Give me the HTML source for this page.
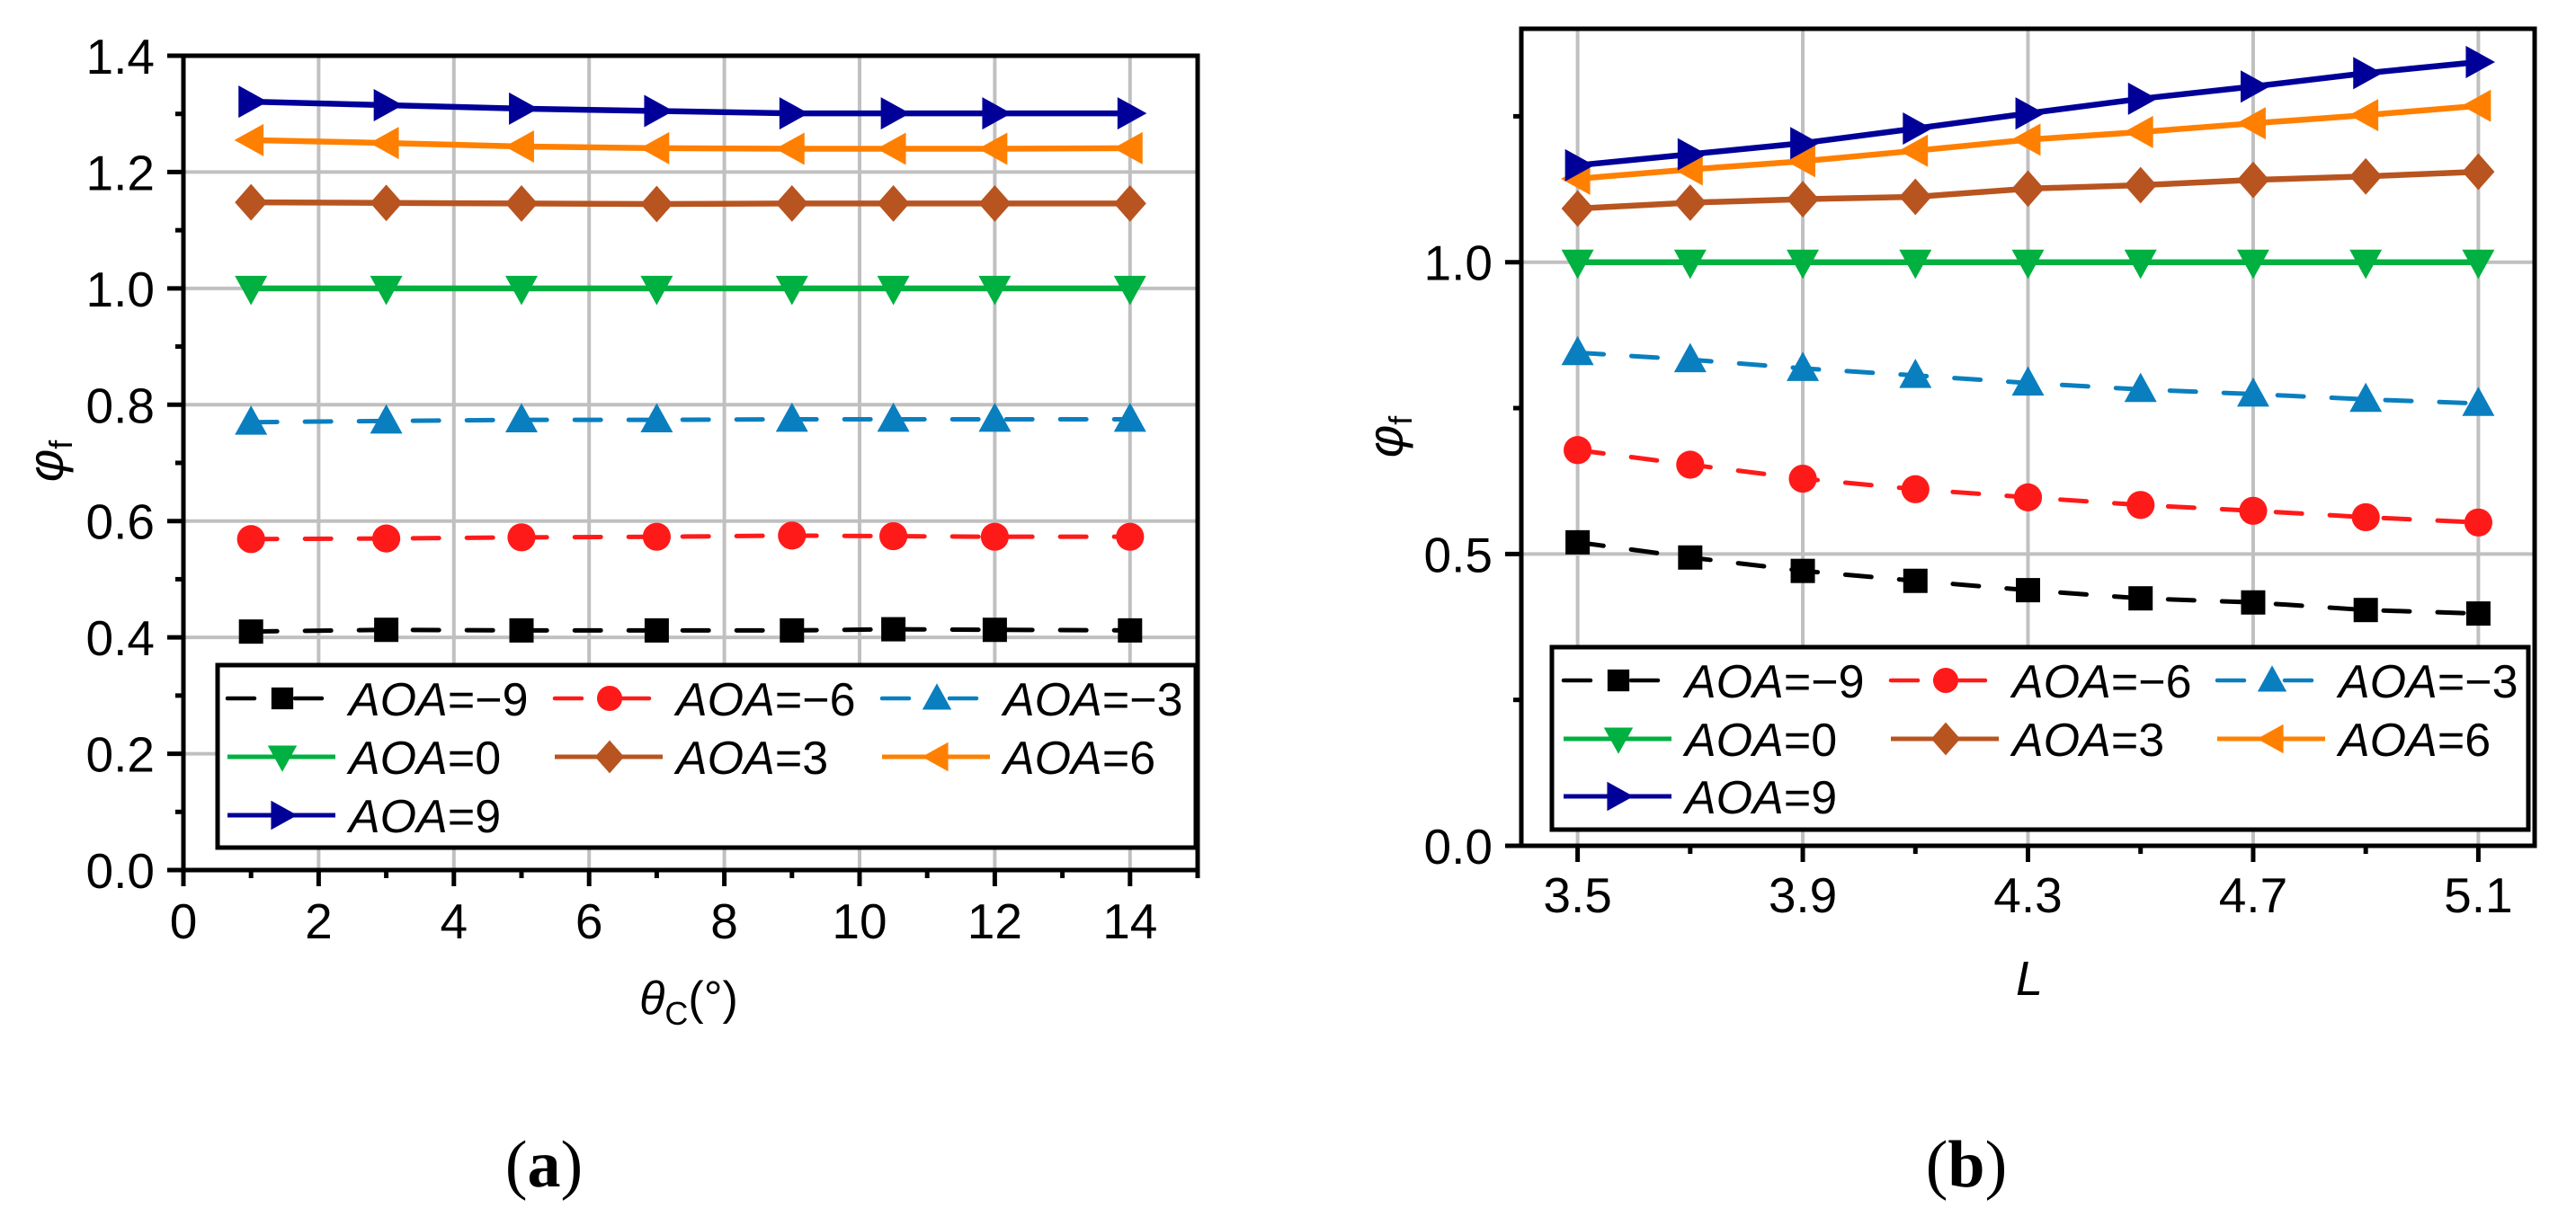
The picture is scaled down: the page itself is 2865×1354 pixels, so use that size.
<!DOCTYPE html>
<html><head><meta charset="utf-8"><style>
html,body{margin:0;padding:0;background:#fff;}
svg{display:block;font-family:"Liberation Sans",sans-serif;}
</style></head><body>
<svg id="fig" width="2865" height="1354" viewBox="0 0 2865 1354" xmlns="http://www.w3.org/2000/svg">
<rect x="0" y="0" width="2865" height="1354" fill="#fff"/>
<g id="chartA"></g>
<g id="chartB"></g>
<text transform="translate(70,513) rotate(-90)" text-anchor="middle" font-size="56"><tspan font-style="italic">φ</tspan><tspan font-size="36" dy="10">f</tspan></text>
<text transform="translate(1560,486) rotate(-90)" text-anchor="middle" font-size="56"><tspan font-style="italic">φ</tspan><tspan font-size="36" dy="10">f</tspan></text>
<text x="766" y="1128" text-anchor="middle" font-size="52"><tspan font-style="italic">θ</tspan><tspan font-size="36" dy="12">C</tspan><tspan dy="-12">(°)</tspan></text>
<text x="2257" y="1107" text-anchor="middle" font-size="54" font-style="italic">L</text>
<text x="605" y="1320" text-anchor="middle" font-size="74" font-family="Liberation Serif, serif">(<tspan font-weight="bold">a</tspan>)</text>
<text x="2187" y="1320" text-anchor="middle" font-size="74" font-family="Liberation Serif, serif">(<tspan font-weight="bold">b</tspan>)</text>
</svg>
<script>
// ---------- data ----------
const seriesLabels = ["−9","−6","−3","0","3","6","9"];
const seriesColors = ["#000000","#ff1a1a","#0a7fbf","#00b040","#b85420","#ff8000","#000099"];
const seriesMarkers = ["square","circle","triUp","triDown","diamond","triLeft","triRight"];
const seriesDashed = [true,true,true,false,false,false,false];

const thetaC = [1,3,5,7,9,10.5,12,14];
const aM9 = [0.410,0.413,0.412,0.412,0.412,0.414,0.413,0.412];
const aM6 = [0.569,0.570,0.572,0.573,0.575,0.574,0.573,0.573];
const aM3 = [0.770,0.772,0.774,0.774,0.775,0.775,0.775,0.775];
const a0  = [1.0,1.0,1.0,1.0,1.0,1.0,1.0,1.0];
const a3  = [1.148,1.147,1.146,1.145,1.146,1.146,1.146,1.146];
const a6  = [1.255,1.250,1.244,1.241,1.240,1.240,1.240,1.241];
const a9  = [1.321,1.315,1.309,1.305,1.301,1.301,1.301,1.301];

const lenL = [3.5,3.7,3.9,4.1,4.3,4.5,4.7,4.9,5.1];
const bM9 = [0.520,0.494,0.471,0.454,0.438,0.424,0.417,0.404,0.398];
const bM6 = [0.678,0.653,0.629,0.611,0.597,0.584,0.574,0.563,0.554];
const bM3 = [0.845,0.833,0.818,0.806,0.793,0.782,0.774,0.765,0.758];
const b0  = [1.0,1.0,1.0,1.0,1.0,1.0,1.0,1.0,1.0];
const b3  = [1.092,1.102,1.108,1.112,1.126,1.132,1.141,1.147,1.155];
const b6  = [1.143,1.159,1.173,1.191,1.210,1.223,1.238,1.252,1.268];
const b9  = [1.166,1.185,1.204,1.229,1.255,1.280,1.301,1.324,1.343];

const xTicksA = [0,2,4,6,8,10,12,14];
const xMinorA = [1,3,5,7,9,11,13,15];
const yTicksA = [0,0.2,0.4,0.6,0.8,1.0,1.2,1.4];
const yMinorA = [0.1,0.3,0.5,0.7,0.9,1.1,1.3];
const xTicksB = [3.5,3.9,4.3,4.7,5.1];
const xMinorB = [3.7,4.1,4.5,4.9];
const yTicksB = [0,0.5,1.0];
const yMinorB = [0.25,0.75,1.25];

const NS="http://www.w3.org/2000/svg";
function mk(tag, attrs, parent){const e=document.createElementNS(NS,tag);for(const k in attrs)e.setAttribute(k,attrs[k]);parent.appendChild(e);return e;}

function marker(g,type,x,y,s,color){
  let e;
  if(type==="square"){e=mk("rect",{x:x-s*0.45,y:y-s*0.45,width:s*0.9,height:s*0.9,fill:color},g);}
  else if(type==="circle"){e=mk("circle",{cx:x,cy:y,r:s*0.52,fill:color},g);}
  else {
    const h=s*0.62,w=s*0.6;let p;
    if(type==="triUp")p=[[x,y-h],[x-w,y+h*0.75],[x+w,y+h*0.75]];
    if(type==="triDown")p=[[x,y+h],[x-w,y-h*0.75],[x+w,y-h*0.75]];
    if(type==="triLeft")p=[[x-h,y],[x+h*0.75,y-w],[x+h*0.75,y+w]];
    if(type==="triRight")p=[[x+h,y],[x-h*0.75,y-w],[x-h*0.75,y+w]];
    if(type==="diamond")p=[[x,y-s*0.68],[x+s*0.6,y],[x,y+s*0.68],[x-s*0.6,y]];
    e=mk("polygon",{points:p.map(q=>q.join(",")).join(" "),fill:color},g);
  }
  
  
  return e;
}

function drawChart(cfg){
  const g=document.getElementById(cfg.id);
  const X=v=>cfg.L+(v-cfg.xmin)/(cfg.xmax-cfg.xmin)*(cfg.R-cfg.L);
  const Y=v=>cfg.B-(v-cfg.ymin)/(cfg.ymax-cfg.ymin)*(cfg.B-cfg.T);
  cfg.xt.forEach(v=>{if(X(v)>cfg.L+3){const l=mk("line",{x1:X(v),x2:X(v),y1:cfg.T,y2:cfg.B,stroke:"#c0c0c0","stroke-width":4},g);
    
    }});
  cfg.yt.forEach(v=>{if(Y(v)<cfg.B-3&&Y(v)>cfg.T+3){const l=mk("line",{x1:cfg.L,x2:cfg.R,y1:Y(v),y2:Y(v),stroke:"#c0c0c0","stroke-width":4},g);
    
    }});
  cfg.series.forEach((ys,i)=>{
    const pts=cfg.xs.map((xv,j)=>X(xv)+","+Y(ys[j])).join(" ");
    const pl=mk("polyline",{points:pts,fill:"none",stroke:seriesColors[i],"stroke-width":seriesDashed[i]?5:6.5,"stroke-dasharray":seriesDashed[i]?"29,31":"none","stroke-linecap":"round"},g);
    
    
    cfg.xs.forEach((xv,j)=>marker(g,seriesMarkers[i],X(xv),Y(ys[j]),30,seriesColors[i]));
  });
  const fr=mk("rect",{x:cfg.L,y:cfg.T,width:cfg.R-cfg.L,height:cfg.B-cfg.T,fill:"none",stroke:"#000","stroke-width":5},g);
  
  
  cfg.xt.forEach(v=>{mk("line",{x1:X(v),x2:X(v),y1:cfg.B,y2:cfg.B+18,stroke:"#000","stroke-width":5},g);
    const t=mk("text",{x:X(v),y:cfg.B+cfg.xlabOff,"text-anchor":"middle","font-size":55},g);t.textContent=cfg.xfmt(v);
    
    });
  cfg.xm.forEach(v=>mk("line",{x1:X(v),x2:X(v),y1:cfg.B,y2:cfg.B+9,stroke:"#000","stroke-width":5},g));
  cfg.yt.forEach(v=>{mk("line",{x1:cfg.L-18,x2:cfg.L,y1:Y(v),y2:Y(v),stroke:"#000","stroke-width":5},g);
    const t=mk("text",{x:cfg.L-32,y:Y(v)+20,"text-anchor":"end","font-size":55},g);t.textContent=v.toFixed(1);
    
    });
  cfg.ym.forEach(v=>mk("line",{x1:cfg.L-9,x2:cfg.L,y1:Y(v),y2:Y(v),stroke:"#000","stroke-width":5},g));
  const lg=mk("g",{},g);
  
  
  mk("rect",{x:cfg.lg.x,y:cfg.lg.y,width:cfg.lg.w,height:cfg.lg.h,fill:"#fff",stroke:"#000","stroke-width":5},lg);
  seriesLabels.forEach((lab,i)=>{
    const col=i<3?i:(i<6?i-3:0), row=i<3?0:(i<6?1:2);
    const x0=cfg.lg.cols[col], y0=cfg.lg.rows[row];
    const ent=mk("g",{},lg);
    
    
    const c=seriesColors[i];
    if(seriesDashed[i]){
      mk("line",{x1:x0,x2:x0+30,y1:y0,y2:y0,stroke:c,"stroke-width":4.5,"stroke-linecap":"round"},ent);
      mk("line",{x1:x0+61,x2:x0+120,y1:y0,y2:y0,stroke:c,"stroke-width":4.5,"stroke-dasharray":"0,14,30,100","stroke-linecap":"round"},ent);
    } else {
      mk("line",{x1:x0,x2:x0+120,y1:y0,y2:y0,stroke:c,"stroke-width":5},ent);
    }
    marker(ent,seriesMarkers[i],x0+61,y0,27,c);
    const t=mk("text",{x:x0+135,y:y0+19,"font-size":52},ent);
    const a=mk("tspan",{"font-style":"italic"},t);a.textContent="AOA";
    const b=mk("tspan",{},t);b.textContent="="+lab;
  });
}

drawChart({id:"chartA",L:204,R:1332,T:62,B:968,xmin:0,xmax:15,ymin:0,ymax:1.4,
  xs:thetaC,series:[aM9,aM6,aM3,a0,a3,a6,a9],xt:xTicksA,xm:xMinorA,yt:yTicksA,ym:yMinorA,
  xlabOff:76,xfmt:v=>String(v),
  lg:{x:242,y:740,w:1088,h:203,cols:[253,617,981],rows:[777,842,907]}});
drawChart({id:"chartB",L:1692,R:2819,T:32,B:941,xmin:3.4,xmax:5.2,ymin:0,ymax:1.4,
  xs:lenL,series:[bM9,bM6,bM3,b0,b3,b6,b9],xt:xTicksB,xm:xMinorB,yt:yTicksB,ym:yMinorB,
  xlabOff:74,xfmt:v=>v.toFixed(1),
  lg:{x:1726,y:720,w:1086,h:203,cols:[1739,2103,2466],rows:[757,822,886]}});
</script>
</body></html>
